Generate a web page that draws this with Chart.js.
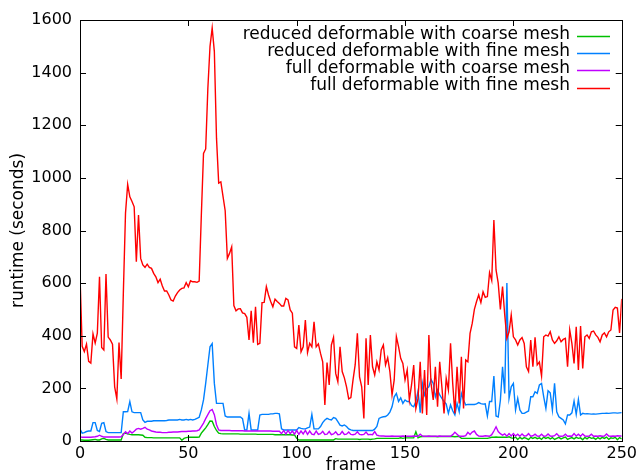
<!DOCTYPE html>
<html>
<head>
<meta charset="utf-8">
<script src="https://cdn.jsdelivr.net/npm/chart.js@4.4.1/dist/chart.umd.min.js"></script>
<style>
  html, body { margin: 0; padding: 0; background: #ffffff; }
  canvas { display: block; }
</style>
</head>
<body>
<canvas id="c" width="640" height="474"></canvas>
<script>
// ---------- data ----------
const seriesNames = [
  "reduced deformable with coarse mesh",
  "reduced deformable with fine mesh",
  "full deformable with coarse mesh",
  "full deformable with fine mesh"
];
const seriesColors = ["#00c000", "#0080ff", "#c000ff", "#ff0000"];

const xTicks = [0, 50, 100, 150, 200, 250];
const yTicks = [0, 200, 400, 600, 800, 1000, 1200, 1400, 1600];

// frame numbers (categories)
const frames = Array.from({length: 251}, (_, i) => i);

const reducedCoarse = [
  4,4,3,3,3,4,5,6,4,4,
  8,10,6,4,4,4,4,4,4,4,
  28,30,27,25,24,24,24,24,23,22,
  14,13,13,13,12,12,12,12,12,12,
  12,12,12,12,12,12,12,3,10,13,
  14,14,14,14,14,15,30,40,50,62,
  76,75,55,40,30,28,27,27,27,27,
  27,27,27,27,26,26,26,26,26,26,
  26,26,25,25,25,25,25,25,25,25,
  24,24,24,24,24,24,24,24,23,23,
  10,4,4,4,4,4,4,4,4,4,
  4,4,4,4,4,4,4,4,9,7,
  7,7,7,7,7,7,7,7,7,6,
  7,7,7,7,6,7,8,10,10,10,
  10,10,10,10,10,10,10,10,12,10,
  12,12,12,12,12,35,12,16,17,17,
  17,17,17,17,17,16,17,17,17,17,
  17,17,17,16,17,17,10,10,10,10,
  10,10,10,10,10,10,10,10,10,12,
  14,14,15,14,14,14,14,14,16,12,
  10,15,6,14,8,13,10,5,14,10,
  14,9,12,6,15,10,14,8,13,6,
  10,14,8,12,15,6,10,13,8,14,
  10,12,5,14,8,15,10,12,6,13,
  8,14,10,15,6,12,10,14,5,13,
  8
];

const reducedFine = [
  45,30,32,36,38,38,70,70,40,36,
  67,70,36,32,32,32,32,32,32,32,
  111,111,112,150,111,108,108,108,108,80,
  71,75,75,75,77,77,77,77,77,77,
  78,80,80,80,80,80,82,80,80,82,
  80,82,80,82,86,90,118,156,219,289,
  358,370,219,143,143,143,143,95,91,91,
  91,91,91,91,91,85,42,42,105,42,
  42,42,42,99,101,101,101,101,103,103,
  105,105,103,46,42,42,42,42,42,42,
  42,51,48,46,46,50,53,101,46,46,
  46,55,70,80,86,82,80,89,86,74,
  60,57,61,55,46,42,40,40,40,40,
  40,40,40,40,40,40,45,55,86,90,
  92,93,99,110,130,168,181,150,164,143,
  156,150,150,135,130,150,190,108,219,175,
  200,206,234,219,168,194,175,162,150,140,
  105,137,115,99,143,111,181,156,137,139,
  139,139,139,141,146,142,140,141,95,150,
  150,247,95,91,155,282,181,600,162,206,
  219,118,162,118,105,105,110,114,168,168,
  187,181,213,219,168,124,191,183,118,219,
  111,92,86,80,65,99,99,107,152,101,
  158,99,105,103,104,103,102,103,102,103,
  104,105,105,106,105,106,107,107,106,107,
  108
];

const fullCoarse = [
  16,14,14,14,14,14,15,16,18,22,
  18,15,15,15,15,15,15,15,15,16,
  25,35,28,38,30,37,45,48,45,48,
  52,45,42,38,36,34,33,33,32,32,
  32,33,33,34,34,34,35,36,36,36,
  37,37,38,38,39,42,55,68,85,100,
  115,120,100,62,42,40,40,40,40,40,
  39,39,39,39,39,39,38,38,38,38,
  38,38,38,38,38,38,38,38,38,37,
  37,37,37,28,40,26,40,28,38,26,
  40,25,38,27,40,25,38,26,24,38,
  25,28,37,25,26,36,24,27,35,24,
  25,36,25,26,34,25,24,26,35,25,
  24,25,34,24,25,24,36,22,20,19,
  19,18,18,18,19,18,18,18,18,19,
  18,18,18,18,19,18,18,26,19,18,
  18,19,18,18,18,18,19,18,18,18,
  18,18,24,33,26,18,18,18,20,33,
  25,34,38,25,19,18,18,20,19,18,
  24,38,54,36,28,22,27,18,28,19,
  28,19,26,18,27,19,20,28,18,20,
  26,19,18,26,18,19,27,19,18,20,
  28,19,18,19,26,18,19,18,28,19,
  26,18,27,19,18,19,26,18,19,18,
  20,18,19,27,19,18,19,18,20,19,
  19
];

const fullFine = [
  630,360,340,368,303,296,407,372,410,624,
  355,346,635,395,384,368,206,160,374,236,
  562,866,975,928,910,890,681,859,694,669,
  660,672,660,656,637,624,602,615,589,570,
  570,555,536,532,551,564,574,580,582,602,
  586,609,605,605,603,608,860,1093,1110,1340,
  1500,1570,1480,1150,980,985,930,875,694,713,
  738,515,495,502,503,487,484,470,384,495,
  374,510,367,371,526,527,587,555,530,510,
  539,530,523,513,513,542,536,498,486,358,
  352,441,339,358,460,336,371,358,453,358,
  369,333,301,137,298,213,365,394,257,225,
  358,264,240,206,160,165,232,290,409,244,
  206,86,390,213,403,282,251,301,270,346,
  365,289,317,264,175,232,397,359,314,295,
  232,270,156,213,289,124,162,301,105,270,
  99,403,219,156,282,130,301,206,105,238,
  194,371,219,105,282,143,320,124,308,301,
  409,447,500,530,555,526,567,546,549,640,
  610,840,650,600,500,587,480,390,415,479,
  396,384,365,384,393,371,282,264,384,282,
  394,289,300,247,396,403,399,415,384,371,
  381,396,377,386,390,282,422,371,295,434,
  270,437,276,396,403,390,415,418,403,394,
  377,403,411,396,415,422,498,508,505,411,
  540
];

const seriesValues = [reducedCoarse, reducedFine, fullCoarse, fullFine];

// ---------- chart ----------
const FONT = "'DejaVu Sans', sans-serif";

function toPoints(vals) {
  return vals.map((v, i) => ({x: frames[i], y: v}));
}

const datasets = seriesNames.map((name, k) => ({
  label: name,
  data: toPoints(seriesValues[k]),
  borderColor: seriesColors[k],
  backgroundColor: seriesColors[k],
  borderWidth: 1.4,
  pointRadius: 0,
  tension: 0,
  fill: false,
  order: 4 - k
}));

const frameAndTicks = {
  id: 'frameAndTicks',
  afterDatasetsDraw(chart) {
    const {ctx, chartArea: a, scales} = chart;
    ctx.save();
    ctx.strokeStyle = '#000';
    ctx.lineWidth = 1;
    const T = 6;
    ctx.beginPath();
    scales.x.ticks.forEach(t => {
      const px = Math.round(scales.x.getPixelForValue(t.value)) + 0.5;
      ctx.moveTo(px, a.bottom); ctx.lineTo(px, a.bottom - T);
      ctx.moveTo(px, a.top); ctx.lineTo(px, a.top + T);
    });
    scales.y.ticks.forEach(t => {
      const py = Math.round(scales.y.getPixelForValue(t.value)) + 0.5;
      ctx.moveTo(a.left, py); ctx.lineTo(a.left + T, py);
      ctx.moveTo(a.right, py); ctx.lineTo(a.right - T, py);
    });
    ctx.stroke();
    ctx.strokeRect(Math.round(a.left) + 0.5, Math.round(a.top) + 0.5,
                   Math.round(a.right - a.left), Math.round(a.bottom - a.top));

    // legend (right-aligned text, sample line at right)
    ctx.font = "17px " + FONT;
    ctx.textAlign = 'right';
    ctx.textBaseline = 'alphabetic';
    chart.data.datasets.forEach((ds, i) => {
      const yb = 38.5 + 17.2 * i;
      ctx.fillStyle = '#000';
      ctx.fillText(ds.label, 570, yb);
      ctx.strokeStyle = ds.borderColor;
      ctx.lineWidth = 1.4;
      ctx.beginPath();
      ctx.moveTo(577, Math.round(yb - 2.5) + 0.5);
      ctx.lineTo(610, Math.round(yb - 2.5) + 0.5);
      ctx.stroke();
    });
    ctx.restore();
  }
};

new Chart(document.getElementById('c'), {
  type: 'line',
  data: { datasets },
  options: {
    responsive: false,
    animation: false,
    events: [],
    layout: { padding: { top: 20, right: 17, left: 0, bottom: 0 } },
    plugins: { legend: { display: false }, tooltip: { enabled: false } },
    scales: {
      x: {
        type: 'linear',
        min: 0, max: 250,
        afterBuildTicks(scale) { scale.ticks = xTicks.map(v => ({value: v})); },
        afterFit(scale) { scale.height = 33; },
        grid: { display: false, drawTicks: false },
        border: { display: false },
        ticks: { color: '#000', font: { family: FONT, size: 16 }, padding: 3, maxRotation: 0, autoSkip: false,
                 callback: v => String(v) },
        title: { display: true, text: 'frame', color: '#000', font: { family: FONT, size: 17, lineHeight: 1 }, padding: { top: 0, bottom: 0 } }
      },
      y: {
        type: 'linear',
        min: 0, max: 1600,
        afterBuildTicks(scale) { scale.ticks = yTicks.map(v => ({value: v})); },
        afterFit(scale) { scale.width = 80; },
        grid: { display: false, drawTicks: false },
        border: { display: false },
        ticks: { color: '#000', font: { family: FONT, size: 16 }, padding: 8, autoSkip: false,
                 callback: v => String(v) },
        title: { display: true, text: 'runtime (seconds)', color: '#000', font: { family: FONT, size: 17, lineHeight: 1 }, padding: { top: 10, bottom: 0 } }
      }
    }
  },
  plugins: [frameAndTicks]
});
</script>
</body>
</html>
